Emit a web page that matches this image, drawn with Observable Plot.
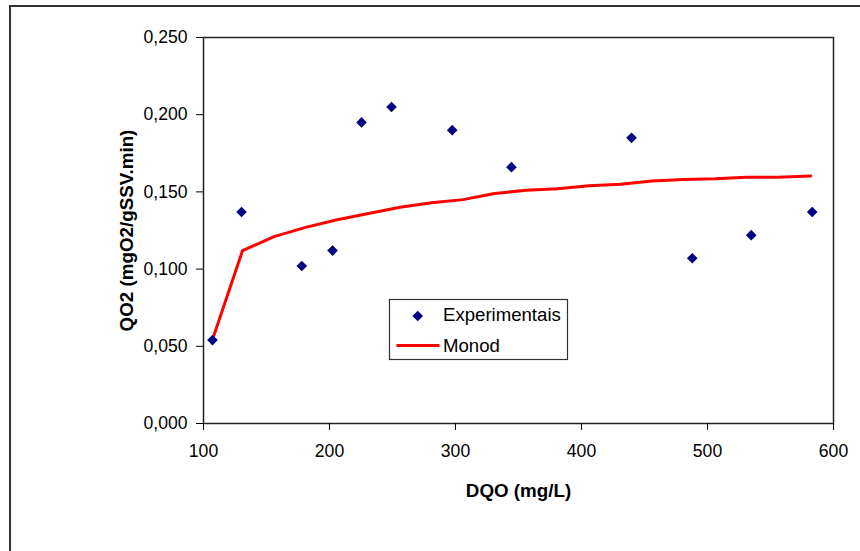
<!DOCTYPE html>
<html>
<head>
<meta charset="utf-8">
<script src="https://cdn.jsdelivr.net/npm/d3@7"></script>
<script src="https://cdn.jsdelivr.net/npm/@observablehq/plot@0.6"></script>
<style>
  html, body { margin: 0; padding: 0; background: #fff; }
  #wrap { position: relative; width: 860px; height: 551px; overflow: hidden; font-family: "Liberation Sans", Arial, sans-serif; }
  #outer { position: absolute; left: 9px; top: 5px; width: 900px; height: 600px; border-left: 2px solid #333; border-top: 2px solid #333; }
  #chart { position: absolute; left: 0; top: 0; }
  #chart svg text { font-family: "Liberation Sans", Arial, sans-serif; }
  g[aria-label="x-axis label"] text, g[aria-label="y-axis label"] text { font-weight: bold; font-size: 18.8px; }
  #legend { position: absolute; left: 0; top: 0; pointer-events: none; }
</style>
</head>
<body>
<div id="wrap">
  <div id="outer"></div>
  <div id="chart"></div>
  <svg id="legend" width="860" height="551"></svg>
</div>
<script>
// Experimental points
const dqo = [107.1, 130.2, 178.0, 202.4, 225.4, 249.2, 297.4, 344.4, 439.7, 487.9, 534.7, 583.1];
const qo2 = [0.054, 0.137, 0.102, 0.112, 0.195, 0.205, 0.190, 0.166, 0.185, 0.107, 0.122, 0.137];
// Monod model curve
const monodX = [107, 131, 156, 181, 206, 231, 256, 281, 306, 331, 356, 381, 406, 431, 456, 481, 506, 531, 556, 582];
const monodY = [0.054, 0.112, 0.121, 0.127, 0.132, 0.136, 0.140, 0.143, 0.145, 0.149, 0.151, 0.152, 0.154, 0.155, 0.157, 0.158, 0.1585, 0.1595, 0.1595, 0.1603];
// Ticks and labels
const xTicks = [100, 200, 300, 400, 500, 600];
const yTicks = [0, 0.05, 0.10, 0.15, 0.20, 0.25];
const xTitle = "DQO (mg/L)";
const yTitle = "QO2 (mgO2/gSSV.min)";
const legendLabels = ["Experimentais", "Monod"];

const points = dqo.map((d, i) => ({x: d, y: qo2[i]}));
const monod = monodX.map((d, i) => ({x: d, y: monodY[i]}));
const fmt = d => d3.format(".3f")(d).replace(".", ",");

const chart = Plot.plot({
  width: 860,
  height: 551,
  marginLeft: 203,
  marginRight: 27,
  marginTop: 37,
  marginBottom: 128,
  style: {fontSize: "17.6px", fontFamily: "Liberation Sans, Arial, sans-serif", color: "#000", background: "transparent"},
  x: {domain: [100, 600]},
  y: {domain: [0, 0.25]},
  marks: [
    Plot.frame({stroke: "#222", strokeWidth: 1.5}),
    Plot.axisX({ticks: xTicks, tickSize: 7, tickPadding: 14, stroke: "#000", label: xTitle, labelAnchor: "center", labelOffset: 73, labelArrow: "none"}),
    Plot.axisY({ticks: yTicks, tickFormat: fmt, tickSize: 7, tickPadding: 9, stroke: "#000", label: yTitle, labelAnchor: "center", labelOffset: 84, labelArrow: "none"}),
    Plot.line(monod, {x: "x", y: "y", stroke: "#ff0000", strokeWidth: 3}),
    Plot.dot(points, {x: "x", y: "y", symbol: "diamond2", r: 4.8, fill: "#000080", stroke: "none"})
  ]
});
document.getElementById("chart").appendChild(chart);

// Legend
const lg = d3.select("#legend");
lg.append("rect").attr("x", 389.5).attr("y", 299.5).attr("width", 178).attr("height", 60)
  .attr("fill", "#fff").attr("stroke", "#333").attr("stroke-width", 1.2);
lg.append("path").attr("d", d3.symbol(d3.symbolDiamond2, Math.PI * 4.8 * 4.8)())
  .attr("transform", "translate(417.7,316)").attr("fill", "#000080");
lg.append("line").attr("x1", 396.5).attr("x2", 439.5).attr("y1", 345.5).attr("y2", 345.5)
  .attr("stroke", "#ff0000").attr("stroke-width", 3);
lg.selectAll("text.lab").data(legendLabels).join("text")
  .attr("class", "lab")
  .attr("x", 443).attr("y", (d, i) => i === 0 ? 320.5 : 351.5)
  .attr("font-family", "Liberation Sans, Arial, sans-serif").attr("font-size", 18.6).attr("fill", "#000")
  .text(d => d);
</script>
</body>
</html>
